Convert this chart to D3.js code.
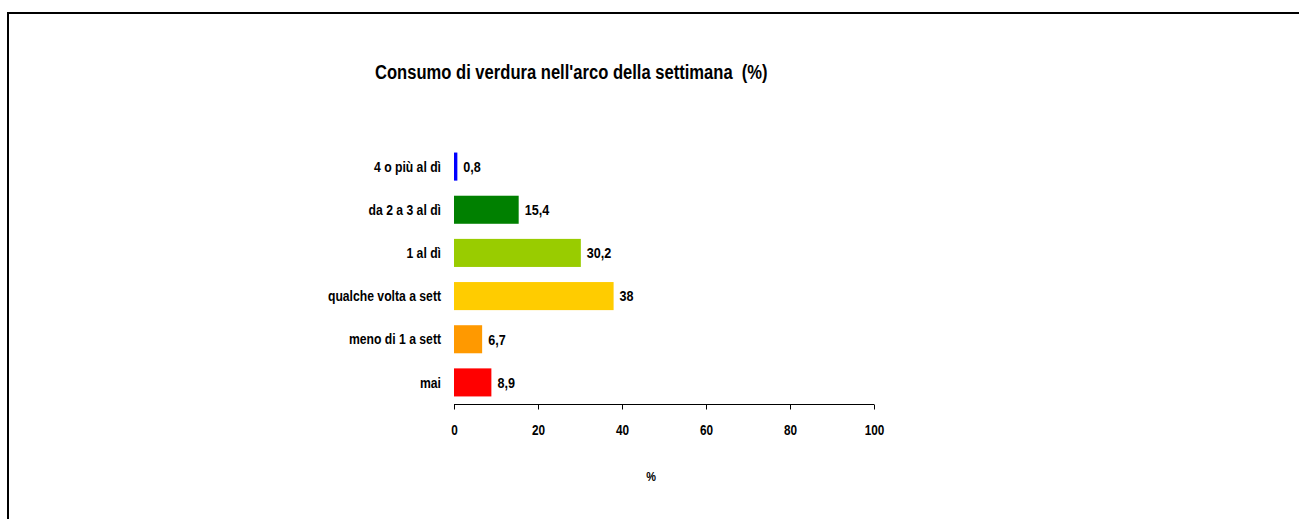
<!DOCTYPE html>
<html>
<head>
<meta charset="utf-8">
<script src="https://cdn.jsdelivr.net/npm/d3@7"></script>
<style>
  body { margin: 0; background: #fff; }
  text { font-family: "Liberation Sans", Arial, sans-serif; font-weight: bold; fill: #000; white-space: pre; }
</style>
</head>
<body>
<div id="chart"></div>
<script>
const categories = ["4 o più al dì", "da 2 a 3 al dì", "1 al dì", "qualche volta a sett", "meno di 1 a sett", "mai"]
const values = [0.8, 15.4, 30.2, 38, 6.7, 8.9]
const labels = ["0,8", "15,4", "30,2", "38", "6,7", "8,9"]
const colors = ["#0000ff", "#008000", "#99cc00", "#ffcc00", "#ff9900", "#ff0000"]
const ticks = [0, 20, 40, 60, 80, 100]

const width = 1299
const height = 519

const svg = d3.select("#chart")
    .append("svg")
    .attr("width", width)
    .attr("height", height)

// squeeze text horizontally to look like a narrow face
function narrow(sel, f) {
    sel.each(function () {
        const len = this.getComputedTextLength()
        d3.select(this)
            .attr("textLength", len * f)
            .attr("lengthAdjust", "spacingAndGlyphs")
    })
}

// frame (only top and left edges are visible)
svg.append("path")
    .attr("d", `M8,${height} V13 H${width}`)
    .attr("fill", "none")
    .attr("stroke", "#000")
    .attr("stroke-width", 2)

const x = d3.scaleLinear().domain([0, 100]).range([454, 874])
const y = d3.scaleBand().domain(categories).range([145, 404]).paddingInner(0.35).paddingOuter(0.175)

svg.append("text")
    .attr("x", 375)
    .attr("y", 79)
    .style("font-size", "19.5px")
    .text("Consumo di verdura nell'arco della settimana  (%)")
    .call(narrow, 0.85)

svg.append("g")
    .selectAll("rect")
    .data(values)
    .join("rect")
    .attr("x", x(0))
    .attr("y", (d, i) => y(categories[i]))
    .attr("width", d => x(d) - x(0))
    .attr("height", y.bandwidth())
    .attr("fill", (d, i) => colors[i])

svg.append("g")
    .selectAll("text")
    .data(values)
    .join("text")
    .attr("x", d => x(d) + 6)
    .attr("y", (d, i) => y(categories[i]) + y.bandwidth() / 2)
    .attr("dy", "0.36em")
    .style("font-size", "15px")
    .text((d, i) => labels[i])
    .call(narrow, 0.84)

svg.append("g")
    .selectAll("text")
    .data(categories)
    .join("text")
    .attr("x", 441)
    .attr("y", d => y(d) + y.bandwidth() / 2)
    .attr("dy", "0.36em")
    .attr("text-anchor", "end")
    .style("font-size", "14.5px")
    .text(d => d)
    .call(narrow, 0.84)

const axis = svg.append("g")
    .attr("transform", "translate(0,404.5)")
    .call(d3.axisBottom(x).tickValues(ticks).tickSize(5).tickFormat(d3.format("d")))

axis.select(".domain").attr("stroke", "#000").attr("d", `M${x(0)},0H${x(100)}`)
axis.selectAll(".tick line").attr("stroke", "#000")
axis.selectAll(".tick text")
    .attr("y", 30.5)
    .attr("dy", 0)
    .style("font-size", "14px")
    .style("font-family", null)
    .call(narrow, 0.84)

svg.append("text")
    .attr("x", 651)
    .attr("y", 481)
    .attr("text-anchor", "middle")
    .style("font-size", "13px")
    .text("%")
    .call(narrow, 0.84)
</script>
</body>
</html>
